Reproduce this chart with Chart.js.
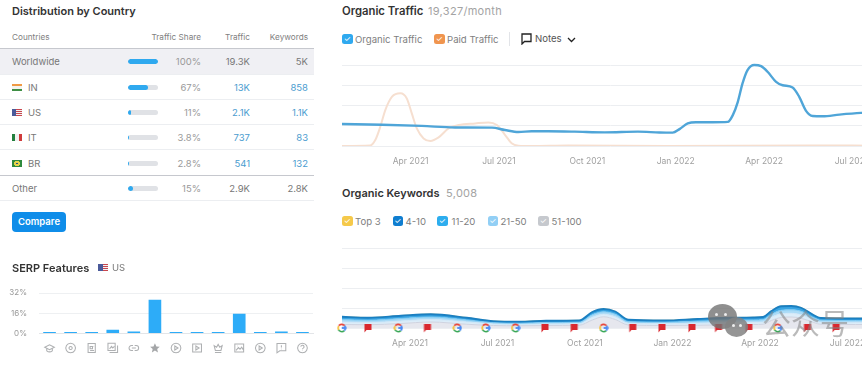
<!DOCTYPE html>
<html>
<head>
<meta charset="utf-8">
<script src="https://cdn.jsdelivr.net/npm/chart.js@4"></script>
<style>
html, body { margin: 0; padding: 0; background: #fff; }
body { position: relative; width: 862px; height: 366px; overflow: hidden; font-family: Inter, sans-serif; color: #666; }
.abs, canvas { position: absolute; }
.t { position: absolute; white-space: nowrap; line-height: 12px; }
.title { font-size: 11px; font-weight: 600; color: #333; }
.sub { font-size: 11px; color: #a3a3a3; letter-spacing: .3px; }
.head { font-size: 8.2px; color: #808080; }
.cell { font-size: 9.5px; color: #777; }
.link { color: #4a9ccf; }
.right { text-align: right; }
.line { position: absolute; left: 0; width: 314px; height: 1px; background: #eceef1; }
.track { position: absolute; left: 128px; width: 30px; height: 5px; border-radius: 3px; background: #e0e2e6; overflow: hidden; }
.fill { height: 100%; background: #2fa9ef; border-radius: 3px; }
.flag { position: absolute; width: 10px; height: 7px; }
.box { position: absolute; width: 10.5px; height: 10.5px; border-radius: 2.5px; color: #fff; font-size: 8px; line-height: 10.5px; text-align: center; }
.legend { font-size: 9.6px; color: #808080; }
#compare { left: 12px; top: 212px; width: 54px; height: 20px; background: #0f8de9; border-radius: 4px; color: #fff; font-size: 9.5px; font-weight: 600; line-height: 20px; text-align: center; }
.bubble { position: absolute; border-radius: 50%; z-index: 5; }
.dot { position: absolute; width: 3px; height: 3px; border-radius: 50%; background: #eee; z-index: 6; }
#mark { left: 762px; top: 304px; font-size: 29px; line-height: 36px; font-family: "Noto Sans CJK SC", sans-serif; color: rgba(130,130,130,.55); z-index: 5; white-space: nowrap; }
</style>
</head>
<body>
<canvas id="serpChart" width="330" height="96" style="left:0;top:270px"></canvas>
<canvas id="trafficChart" width="546" height="115" style="left:334px;top:55px"></canvas>
<canvas id="keywordChart" width="546" height="114" style="left:334px;top:238px"></canvas>
<div id="left"></div>
<div id="right"></div>
<script>
const countryNames = ['Worldwide', 'IN', 'US', 'IT', 'BR', 'Other'];
const countryShare = [100, 67, 11, 3.8, 2.8, 15];
const shareLabels = ['100%', '67%', '11%', '3.8%', '2.8%', '15%'];
const trafficLabels = ['19.3K', '13K', '2.1K', '737', '541', '2.9K'];
const keywordLabels = ['5K', '858', '1.1K', '83', '132', '2.8K'];

const serpNames = ['Knowledge panel', 'Local pack', 'Top stories', 'Image pack', 'Sitelinks', 'Reviews', 'Video', 'Featured video', 'Top ads', 'Images', 'Carousel', 'Featured snippet', 'People also ask'];
const serpValues = [1.2, 1.2, 1.2, 3, 1.5, 26.7, 1.2, 1.2, 1.2, 15.7, 1.2, 1.5, 1.2];
const serpTicks = [0, 16, 32];

const tickMonths = [0, 3, 6, 9, 12, 15];
const tickLabels = ['Apr 2021', 'Jul 2021', 'Oct 2021', 'Jan 2022', 'Apr 2022', 'Jul 2022'];

// months are counted from Apr 2021, traffic in thousands
const organicMonths = [-2.33, -0.97, 0.38, 1.5, 2.76, 3.2, 3.66, 4.11, 4.67, 5.57, 6.59, 7.72, 8.45, 8.9, 9.13, 9.41, 9.69, 10.26, 10.77, 10.94, 11.11, 11.27, 11.44, 11.67, 11.9, 12.12, 12.41, 12.63, 12.97, 13.2, 13.42, 13.65, 13.99, 14.56, 15.29, 15.6];
const organicValues = [13, 12.6, 11.9, 11, 10.9, 9.5, 8.3, 8.7, 8.7, 8.5, 8.1, 8.5, 8, 7.9, 10, 13.4, 14.1, 14.1, 14.3, 18.3, 26.2, 37.1, 45, 48, 47.3, 44, 38, 36, 34.7, 29, 21, 17.8, 17.6, 18.6, 19.6, 19.8];
const paidMonths = [-2.33, -1.37, -1.2, -1.03, -0.86, -0.63, -0.35, -0.13, 0.04, 0.21, 0.44, 0.67, 0.95, 1.29, 1.63, 2.19, 2.64, 2.93, 3.21, 3.43, 3.66, 4.11, 5.34, 8.74, 13.6, 15.6];
const paidValues = [0, 0.3, 3.5, 11.4, 21.3, 29.2, 31.2, 28.2, 19.3, 10.4, 4.5, 3, 5.1, 10.4, 12.4, 13.4, 14, 12.4, 6.5, 1.6, 0.2, 0, 0.3, 0, 0.3, 0.2];

const keywordMonths = [-2.34, -1.44, -0.31, 0.71, 1.95, 2.86, 3.76, 4.67, 5.8, 6.25, 6.64, 7.04, 7.49, 8.74, 9.86, 10.99, 11.78, 12.11, 12.39, 12.73, 13.07, 13.41, 13.85, 14.09, 15.27, 15.6];
const top3 = [0.1, 0.1, 0.1, 0.1, 0.1, 0.1, 0.1, 0.1, 0.1, 0.1, 0.1, 0.1, 0.1, 0.1, 0.1, 0.1, 0.1, 0.1, 0.1, 0.1, 0.1, 0.1, 0.1, 0.1, 0.1, 0.1];
const pos4to10 = [1.1, 1, 1.1, 1.1, 0.9, 0.6, 0.6, 0.7, 0.7, 1.1, 1.1, 1.1, 0.8, 0.7, 0.9, 1, 1, 1, 1.3, 1.6, 1.5, 1.4, 1, 0.9, 0.8, 0.8];
const pos11to20 = [1, 0.9, 1, 1, 0.8, 0.5, 0.5, 0.6, 0.6, 1, 1, 1, 0.6, 0.6, 0.8, 0.9, 0.9, 1, 1.2, 1.4, 1.4, 1.4, 0.9, 0.8, 0.8, 0.8];
const pos21to50 = [1, 0.9, 1, 1, 0.9, 0.6, 0.5, 0.6, 0.6, 1.1, 1, 1.1, 0.7, 0.7, 0.8, 0.9, 0.9, 0.9, 1.3, 1.5, 1.5, 1.4, 1, 0.8, 0.8, 0.8];
const pos51to100 = [1.4, 1.3, 1.8, 2.4, 1.5, 1, 0.9, 1, 1.1, 3.2, 4.5, 3.4, 1.2, 1, 1.1, 1.3, 1.4, 1.5, 3, 4.2, 4.4, 3.9, 2.2, 1.5, 1.4, 1.4];

const googleMonths = [-2.34, -0.4, 1.62, 2.6, 3.62, 6.64, 12.61];
const flagMonths = [-1.44, 0.6, 4.63, 5.63, 7.64, 8.64, 9.67, 10.58, 11.62, 13.63, 14.61];

const serpIcons = [
    'M1 6l6-3 6 3-6 3zM3.500 7.500v3c2 1.500 5 1.500 7 0v-3',
    'M7 1a6 6 0 1 0 .01 0M7 5a2 2 0 1 0 .01 0',
    'M2.500 1.500h9v11h-9zM5 5h3v3H5zM9.500 5h.5M5 10h5',
    'M1 1h9v9H1zM3 12.500h10V4M3 8l2.500-3L7 7l2-2',
    'M6 4H4a3 3 0 0 0 0 6h2M8 4h2a3 3 0 0 1 0 6H8M4.500 7h5',
    'M7 1l1.800 4 4.200.4-3.200 2.800 1 4.300L7 10.200 3.200 12.500l1-4.300L1 5.400 5.200 5z',
    'M7 1a6 6 0 1 0 .01 0M5.500 4.500l4 2.500-4 2.500z',
    'M1.500 2h11v10h-11zM5.500 4.500l4 2.500-4 2.500z',
    'M2 4l3 2 2-3.500L9 6l3-2-1.500 6h-7zM3 12.500h8',
    'M1.500 2h11v10h-11zM3 10l3-3.500 2 2 2-2.500 2 3M4.500 4.500h.5',
    'M7 1a6 6 0 1 0 .01 0M5.500 4.500l4 2.500-4 2.500z',
    'M1.500 1.500h11v9H5l-3.500 2.500zM7 3.500v3M7 8v.5',
    'M7 1a6 6 0 1 0 .01 0M5 5.500a2 2 0 1 1 3 1.700c-.7.4-1 .8-1 1.500M7 10v.5'
];

Chart.defaults.font.family = 'Inter, sans-serif';
Chart.defaults.animation = false;
Chart.defaults.responsive = false;
Chart.defaults.plugins.legend.display = false;
Chart.defaults.plugins.tooltip.enabled = false;

const el = (cls, css, text, parent) => {
    const d = document.createElement('div');
    d.className = cls;
    d.style.cssText = css;
    if (text !== undefined) d.innerHTML = text;
    parent.appendChild(d);
    return d;
};
const flagCss = {
    IN: 'background:linear-gradient(#f09a45 33%,#f4f4f0 33% 66%,#3f8f45 66%)',
    US: 'background:linear-gradient(90deg,#4a5a9a 45%,transparent 45%),repeating-linear-gradient(#c8474f 0 1px,#f2f2f2 1px 2px)',
    IT: 'background:linear-gradient(90deg,#23803f 33%,#f2f2f2 33% 66%,#cf3b3b 66%)',
    BR: 'background:radial-gradient(circle,#1f4f8a 16%,#e4d34a 18% 45%,#2f8a3e 48%)'
};

const left = document.getElementById('left');
el('t title', 'left:12px;top:4.500px', 'Distribution by Country', left);
el('t head', 'left:12px;top:31px', 'Countries', left);
el('t head right', 'right:661px;top:31px', 'Traffic Share', left);
el('t head right', 'right:612px;top:31px', 'Traffic', left);
el('t head right', 'right:554px;top:31px', 'Keywords', left);
el('abs', 'left:0;top:49px;width:314px;height:25px;background:#f0f0f4', '', left);
el('line', 'top:48px;background:#c6c8ce', '', left);

const rowTops = [61, 87, 112.5, 137.5, 163, 188.5];
const ruleTops = [74, 99, 124, 149, 175, 200];
countryNames.forEach((name, i) => {
    const y = rowTops[i];
    const linked = i >= 1 && i <= 4;
    el('line', `top:${ruleTops[i]}px${i === 4 ? ';background:#c6c8ce' : ''}`, '', left);
    if (flagCss[name]) el('flag', `left:12px;top:${y - 3.5}px;${flagCss[name]}`, '', left);
    el('t cell', `left:${linked ? 28 : 12}px;top:${y - 5.5}px`, name, left);
    const track = el('track', `top:${y - 2.5}px`, '', left);
    el('fill', `width:${Math.max(countryShare[i], 3)}%`, '', track);
    el('t cell right', `right:661px;top:${y - 5.5}px;color:#999`, shareLabels[i], left);
    el(`t cell right${linked ? ' link' : ''}`, `right:612px;top:${y - 5.5}px`, trafficLabels[i], left);
    el(`t cell right${linked ? ' link' : ''}`, `right:554px;top:${y - 5.5}px`, keywordLabels[i], left);
});
el('abs', '', 'Compare', left).id = 'compare';
el('t title', 'left:12px;top:261.500px', 'SERP Features', left);
el('flag', `left:98px;top:264px;${flagCss.US}`, '', left);
el('t cell', 'left:112px;top:261.500px', 'US', left);

const right = document.getElementById('right');
const check = (x, y, color) => el('box', `left:${x}px;top:${y}px;background:${color}`, '&#10003;', right);
el('t title', 'left:342px;top:4.500px;font-size:11.300px', 'Organic Traffic', right);
el('t sub', 'left:428px;top:4.500px', '19,327/month', right);
check(342, 33.5, '#2fa9ef');
el('t legend', 'left:355px;top:33.500px', 'Organic Traffic', right);
check(434, 33.5, '#f0954f');
el('t legend', 'left:447px;top:33.500px', 'Paid Traffic', right);
el('abs', 'left:509px;top:32px;width:1px;height:14px;background:#e2e4e8', '', right);
right.insertAdjacentHTML('beforeend', '<svg class="abs" style="left:521px;top:33px" width="11" height="12" fill="none" stroke="#222" stroke-width="1.300"><path d="M1 1h9v7.500H3.500L1 11z"/></svg><svg class="abs" style="left:567px;top:37px" width="9" height="6" fill="none" stroke="#222" stroke-width="1.300"><path d="M1 1l3.500 3.500L8 1"/></svg>');
el('t legend', 'left:535px;top:33px;color:#555', 'Notes', right);

el('t title', 'left:342px;top:186.500px', 'Organic Keywords', right);
el('t sub', 'left:446px;top:186.500px', '5,008', right);
const keyLegendBoxes = [342, 392.5, 437, 487.5, 538];
const keyLegendTexts = [355, 405.5, 451.5, 500.5, 551.5];
const keyLegendNames = ['Top 3', '4-10', '11-20', '21-50', '51-100'];
const keyLegendColors = ['#f5c94a', '#0f7ed0', '#2dadee', '#92cff5', '#c6c9ce'];
keyLegendNames.forEach((name, i) => {
    check(keyLegendBoxes[i], 215.5, keyLegendColors[i]);
    el('t legend', `left:${keyLegendTexts[i]}px;top:215.500px`, name, right);
});

// watermark over the keyword chart
el('bubble', 'left:708px;top:304px;width:29px;height:25px;background:rgba(115,115,115,.8)', '', right);
el('bubble', 'left:725px;top:317px;width:23px;height:20px;background:rgba(130,130,130,.85)', '', right);
[[715, 313], [724, 313], [732, 324], [739, 324]].forEach(([x, y]) => el('dot', `left:${x}px;top:${y}px`, '', right));
el('abs', '', '公众号', right).id = 'mark';

const hiddenY = {
    ticks: { display: false },
    border: { display: false },
    grid: { color: '#eceef1', drawTicks: false },
    afterFit: s => { s.width = 0; }
};
const monthAxis = {
    type: 'linear',
    min: -2.33,
    max: 15.91,
    afterBuildTicks: s => { s.ticks = tickMonths.map(value => ({ value })); },
    afterFit: s => { s.height = 24; },
    grid: { display: false, drawTicks: false },
    border: { display: false },
    ticks: {
        autoSkip: false, maxRotation: 0, padding: 10, color: '#a0a0a0', font: { size: 8.5 },
        callback: v => tickLabels[tickMonths.indexOf(v)]
    }
};
const toPoints = (xs, ys) => xs.map((x, i) => ({ x, y: ys[i] }));

new Chart(document.getElementById('trafficChart'), {
    type: 'line',
    data: {
        datasets: [
            { label: 'Organic Traffic', data: toPoints(organicMonths, organicValues), borderColor: '#4fa5d8', borderWidth: 2.4, pointRadius: 0, cubicInterpolationMode: 'monotone', clip: false },
            { label: 'Paid Traffic', data: toPoints(paidMonths, paidValues), borderColor: '#f6dfd0', borderWidth: 2, pointRadius: 0, cubicInterpolationMode: 'monotone' }
        ]
    },
    options: {
        parsing: false,
        layout: { padding: { left: 8, top: 10 } },
        scales: { x: monthAxis, y: { ...hiddenY, min: 0, max: 48, ticks: { display: false, stepSize: 12 } } }
    }
});

const makeIcon = draw => {
    const c = document.createElement('canvas');
    c.width = 10;
    c.height = 10;
    draw(c.getContext('2d'));
    return c;
};
const googleIcon = makeIcon(ctx => {
    ctx.lineWidth = 1.7;
    [['#e8483c', -2.5, -0.7], ['#f6bc2c', 2.6, 3.7], ['#3aa757', 0.8, 2.6], ['#4285f4', -0.7, 0.8]].forEach(([color, a, b]) => {
        ctx.strokeStyle = color;
        ctx.beginPath();
        ctx.arc(5, 5, 3.6, a, b);
        ctx.stroke();
    });
    ctx.strokeStyle = '#4285f4';
    ctx.beginPath();
    ctx.moveTo(5, 5);
    ctx.lineTo(8.6, 5);
    ctx.stroke();
});
const flagIcon = makeIcon(ctx => {
    ctx.fillStyle = '#d9282f';
    ctx.beginPath();
    ctx.moveTo(1.5, 1);
    ctx.lineTo(8.5, 1);
    ctx.lineTo(8.5, 7);
    ctx.lineTo(3.5, 7);
    ctx.lineTo(1.5, 9.5);
    ctx.closePath();
    ctx.fill();
});

const stackLine = (label, values, color, fillColor, fill, width) => ({
    label, data: toPoints(keywordMonths, values), borderColor: color, backgroundColor: fillColor, fill,
    borderWidth: width, pointRadius: 0, cubicInterpolationMode: 'monotone'
});
const markerSet = (label, months, icon) => ({
    label, data: months.map(x => ({ x, y: 0 })), stack: 'marks', showLine: false, pointStyle: icon, pointRadius: 5, clip: false, order: -1
});

new Chart(document.getElementById('keywordChart'), {
    type: 'line',
    data: {
        datasets: [
            stackLine('51-100', pos51to100, '#cfd3e0', '#e6e7ee', 'origin', 1),
            stackLine('21-50', pos21to50, '#cfe6f7', '#dcedf9', '-1', 1),
            stackLine('11-20', pos11to20, '#7cc8f2', '#a9dbf7', '-1', 1),
            stackLine('4-10', pos4to10, '#1a7fc2', '#3aa5e2', '-1', 1.8),
            stackLine('Top 3', top3, '#efdf9c', '#efdf9c', '-1', 1),
            markerSet('Google updates', googleMonths, googleIcon),
            markerSet('Notes', flagMonths, flagIcon)
        ]
    },
    options: {
        parsing: false,
        layout: { padding: { left: 8, top: 10 } },
        scales: { x: monthAxis, y: { ...hiddenY, stacked: true, min: 0, max: 32, ticks: { display: false, stepSize: 8 } } }
    }
});

const iconRow = {
    id: 'iconRow',
    afterDraw(chart) {
        const { ctx, scales } = chart;
        serpIcons.forEach((path, i) => {
            ctx.save();
            ctx.translate(scales.x.getPixelForValue(i) - 5.6, 72.4);
            ctx.scale(0.8, 0.8);
            ctx.strokeStyle = '#aeb0b2';
            ctx.fillStyle = '#a4a6a8';
            ctx.lineWidth = 1.3;
            const p = new Path2D(path);
            if (i === 5) ctx.fill(p); else ctx.stroke(p);
            ctx.restore();
        });
    }
};

new Chart(document.getElementById('serpChart'), {
    type: 'bar',
    data: { labels: serpNames, datasets: [{ data: serpValues, backgroundColor: '#2dacf8', barPercentage: 0.6, categoryPercentage: 1 }] },
    options: {
        layout: { padding: { top: 23, right: 17 } },
        scales: {
            x: {
                afterFit: s => { s.height = 32.5; },
                grid: { display: false, drawTicks: false },
                border: { color: '#e3e5e8' },
                ticks: { display: false }
            },
            y: {
                min: 0, max: 32,
                afterBuildTicks: s => { s.ticks = serpTicks.map(value => ({ value })); },
                afterFit: s => { s.width = 39; },
                border: { display: false },
                grid: { color: '#eef0f2', drawTicks: false },
                ticks: { padding: 12, color: '#999', font: { size: 8 }, callback: v => v + '%' }
            }
        }
    },
    plugins: [iconRow]
});
</script>
</body>
</html>
